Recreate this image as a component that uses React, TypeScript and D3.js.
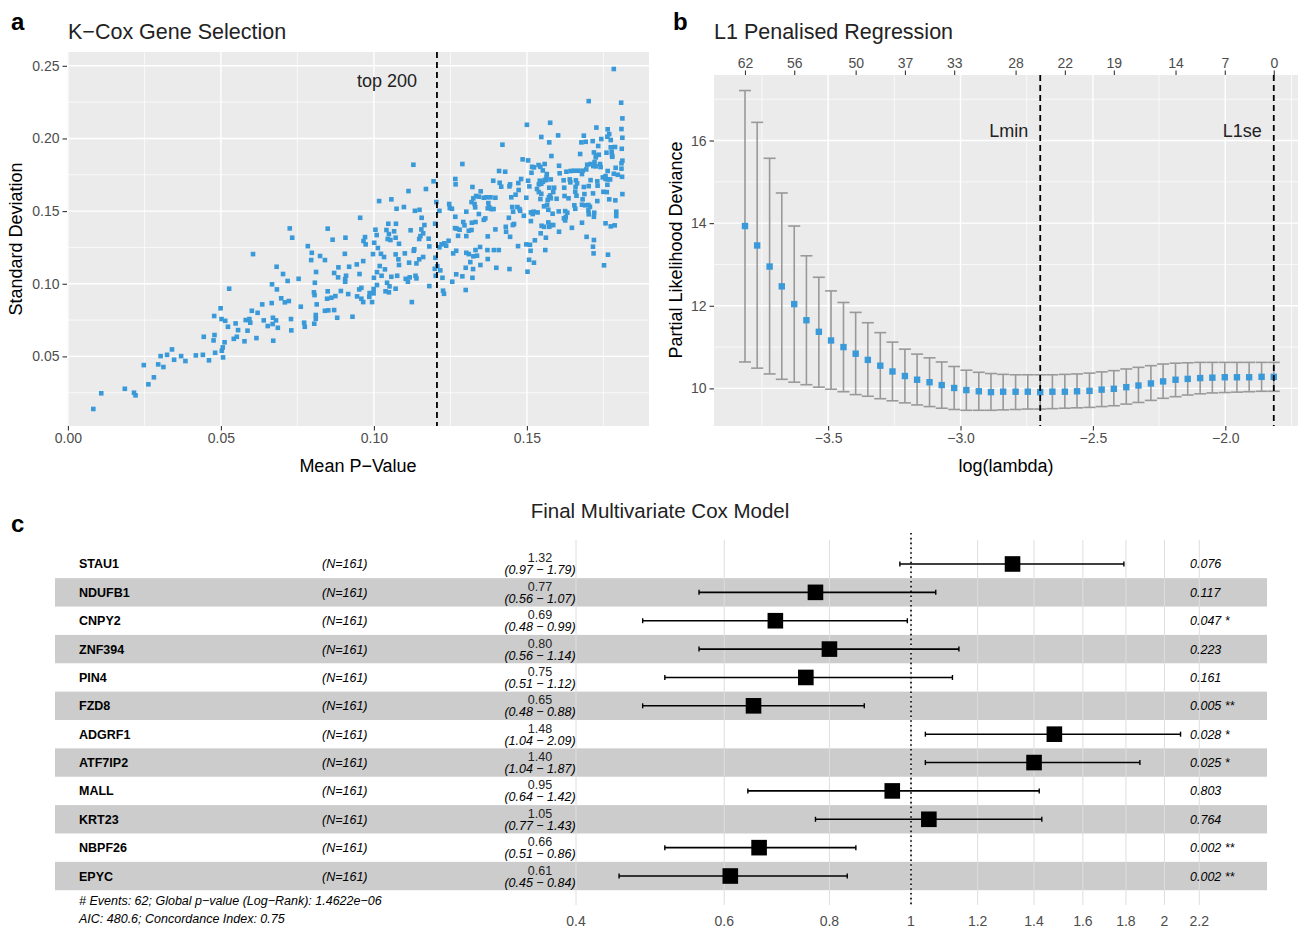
import React, { useEffect, useRef } from "react";
import * as d3 from "d3";

// ---------- panel a : K-Cox gene selection ----------
// [mean p-value, standard deviation] for each gene
const kcoxPoints: [number, number][] = [
  [0.0083, 0.0138], [0.0109, 0.0246], [0.0186, 0.0277], [0.0216, 0.025], [0.0221, 0.0232], [0.0248, 0.044],
  [0.0263, 0.0308], [0.0281, 0.0356], [0.0295, 0.0445], [0.0303, 0.0502], [0.0312, 0.0427], [0.0324, 0.0511],
  [0.034, 0.0548], [0.0347, 0.0477], [0.037, 0.0502], [0.0384, 0.0468], [0.0418, 0.0507], [0.0441, 0.0511],
  [0.0444, 0.0635], [0.0461, 0.0473], [0.0476, 0.061], [0.0478, 0.0778], [0.0479, 0.0647], [0.0481, 0.0525],
  [0.0499, 0.0831], [0.0502, 0.0757], [0.0503, 0.0539], [0.0506, 0.0562], [0.0507, 0.0493], [0.0512, 0.0597],
  [0.0514, 0.0745], [0.0523, 0.0704], [0.0527, 0.0966], [0.0542, 0.0621], [0.0548, 0.0727], [0.0552, 0.0635],
  [0.0556, 0.0681],
  [0.0725, 0.1381], [0.0733, 0.1317], [0.0849, 0.1379], [0.0865, 0.1303], [0.0605, 0.1204], [0.0784, 0.1259],
  [0.0797, 0.1213], [0.0795, 0.1163], [0.0824, 0.1191], [0.084, 0.1163], [0.0682, 0.1117], [0.0703, 0.1067],
  [0.0718, 0.1019], [0.0754, 0.1034], [0.0811, 0.1081], [0.0807, 0.1007], [0.087, 0.1074], [0.0884, 0.1113],
  [0.0883, 0.1044], [0.0667, 0.0996], [0.0683, 0.0961], [0.0804, 0.0941], [0.0806, 0.0922], [0.0849, 0.0948],
  [0.0892, 0.095], [0.0697, 0.09], [0.0709, 0.0872], [0.0722, 0.0881], [0.0761, 0.0842], [0.0813, 0.0858],
  [0.0847, 0.0897], [0.0861, 0.0904], [0.0874, 0.0915], [0.0635, 0.0858], [0.0666, 0.0867], [0.0601, 0.0814],
  [0.062, 0.08], [0.084, 0.0814], [0.0851, 0.0817], [0.087, 0.0819], [0.088, 0.0766], [0.093, 0.0773],
  [0.0581, 0.075], [0.0593, 0.0757], [0.0596, 0.0732], [0.064, 0.0748], [0.067, 0.0766], [0.0669, 0.0723],
  [0.068, 0.0748], [0.0686, 0.0697], [0.0653, 0.0709], [0.0729, 0.0757], [0.073, 0.0679], [0.0772, 0.0732],
  [0.0774, 0.0704], [0.0805, 0.0725], [0.081, 0.0759], [0.081, 0.0785], [0.0587, 0.0677], [0.0577, 0.0604],
  [0.0616, 0.0626], [0.0671, 0.0608],
  [0.1129, 0.1819], [0.1289, 0.1824], [0.1195, 0.1705], [0.1266, 0.1721], [0.1267, 0.1684], [0.1113, 0.1638],
  [0.117, 0.1652], [0.1017, 0.1569], [0.1057, 0.1581], [0.1074, 0.1516], [0.1098, 0.1528], [0.1134, 0.1502],
  [0.1149, 0.1509], [0.1204, 0.1562], [0.1214, 0.1502], [0.1246, 0.1549], [0.1248, 0.1521], [0.1255, 0.1516],
  [0.1302, 0.1496], [0.0955, 0.1454], [0.1156, 0.1454], [0.1047, 0.1413], [0.1072, 0.1413], [0.12, 0.1413],
  [0.1165, 0.1404], [0.1266, 0.1461], [0.1292, 0.1425], [0.1265, 0.1383], [0.1271, 0.1379], [0.128, 0.1372],
  [0.1296, 0.1402], [0.131, 0.1365], [0.1005, 0.1372], [0.1041, 0.137], [0.1066, 0.1361], [0.112, 0.1368],
  [0.1155, 0.1374], [0.1161, 0.1347], [0.1009, 0.1335], [0.1049, 0.1342], [0.1152, 0.1328], [0.1275, 0.133],
  [0.0907, 0.1317], [0.0971, 0.1321], [0.1045, 0.1308], [0.1054, 0.1301], [0.1071, 0.1317], [0.1148, 0.1308],
  [0.1179, 0.131], [0.1302, 0.1328], [0.0966, 0.1294], [0.0973, 0.1271], [0.1001, 0.1282], [0.1082, 0.1275],
  [0.123, 0.1278], [0.1244, 0.1296], [0.1221, 0.1271], [0.1236, 0.1262], [0.1214, 0.1251], [0.1181, 0.1257],
  [0.1013, 0.1246], [0.1132, 0.1237], [0.113, 0.1227], [0.0905, 0.1206], [0.0997, 0.1204], [0.1023, 0.1206],
  [0.1033, 0.1184], [0.1071, 0.1202], [0.1101, 0.1209], [0.1161, 0.1184], [0.1148, 0.1168], [0.108, 0.1168],
  [0.1201, 0.1179], [0.1259, 0.1209], [0.1269, 0.1227], [0.1302, 0.1213], [0.131, 0.1204], [0.0965, 0.1156],
  [0.0944, 0.1133], [0.0919, 0.1117], [0.1019, 0.1122], [0.1036, 0.1099], [0.1082, 0.1129], [0.1115, 0.1145],
  [0.1139, 0.114], [0.1207, 0.112], [0.1199, 0.1103], [0.1217, 0.1092], [0.13, 0.111], [0.0906, 0.1032],
  [0.0909, 0.1055], [0.0906, 0.1014], [0.0953, 0.1067], [0.1, 0.1041], [0.101, 0.108], [0.1025, 0.1055],
  [0.1057, 0.1048], [0.1076, 0.1055], [0.1104, 0.1034], [0.1117, 0.1044], [0.1111, 0.1014], [0.1136, 0.1055],
  [0.1139, 0.1037], [0.1202, 0.1055], [0.1224, 0.1041], [0.1269, 0.1065], [0.1289, 0.1051], [0.101, 0.0991],
  [0.1051, 0.0982], [0.1071, 0.0966], [0.0999, 0.0964], [0.0959, 0.0972], [0.0952, 0.0961], [0.0916, 0.0929],
  [0.0945, 0.0913], [0.0959, 0.0897], [0.0965, 0.0874], [0.0985, 0.091], [0.0994, 0.0874], [0.0986, 0.0936],
  [0.0999, 0.0934], [0.1038, 0.0948], [0.1049, 0.0941], [0.1043, 0.1007], [0.1124, 0.0874], [0.1181, 0.0984],
  [0.1226, 0.0952], [0.1229, 0.0931], [0.1256, 0.1014], [0.13, 0.0957],
  [0.1784, 0.2478], [0.1702, 0.2257], [0.1808, 0.2246], [0.1812, 0.2138], [0.15, 0.2094], [0.1576, 0.2108],
  [0.1727, 0.2075], [0.1764, 0.2063], [0.1769, 0.203], [0.1763, 0.2012], [0.1602, 0.2021], [0.1547, 0.201],
  [0.1686, 0.2019], [0.1812, 0.2005], [0.1809, 0.2065], [0.1743, 0.1996], [0.1692, 0.1977], [0.1678, 0.1973],
  [0.1715, 0.1982], [0.1774, 0.1989], [0.1573, 0.1973], [0.142, 0.1957], [0.1733, 0.1948], [0.1788, 0.1941],
  [0.1774, 0.1939], [0.1777, 0.1908], [0.1778, 0.1884], [0.1779, 0.1874], [0.181, 0.1929], [0.176, 0.1902],
  [0.1719, 0.1904], [0.1726, 0.1884], [0.1735, 0.1888], [0.1725, 0.187], [0.1674, 0.1893], [0.158, 0.1879],
  [0.1486, 0.1856], [0.1504, 0.1849], [0.1812, 0.1847], [0.1809, 0.1829], [0.1697, 0.1819], [0.1708, 0.1824],
  [0.1721, 0.1838], [0.1717, 0.181], [0.1725, 0.1808], [0.1739, 0.1824], [0.1741, 0.1803], [0.1605, 0.1812],
  [0.1558, 0.1824], [0.1517, 0.1805], [0.1523, 0.1801], [0.1538, 0.1817], [0.1544, 0.1805], [0.1552, 0.178],
  [0.1515, 0.1764], [0.179, 0.1798], [0.1809, 0.1792], [0.1694, 0.1787], [0.1682, 0.1778], [0.1668, 0.1778],
  [0.1654, 0.1778], [0.1643, 0.1776], [0.1629, 0.1771], [0.1607, 0.176], [0.1565, 0.1755], [0.1564, 0.1732],
  [0.1764, 0.1776], [0.1784, 0.1757], [0.1797, 0.175], [0.1811, 0.1736], [0.1409, 0.1776], [0.1429, 0.1771],
  [0.168, 0.1755], [0.1748, 0.1732], [0.1757, 0.1741], [0.1757, 0.1721], [0.1765, 0.1718], [0.1772, 0.1718],
  [0.1708, 0.1713], [0.173, 0.1705], [0.139, 0.1709], [0.1481, 0.1721], [0.1504, 0.1709], [0.1542, 0.1709],
  [0.1552, 0.1702], [0.1558, 0.1714], [0.1563, 0.1714], [0.1539, 0.1684], [0.1547, 0.1688], [0.1578, 0.1718],
  [0.162, 0.1712], [0.164, 0.1718], [0.1642, 0.1698], [0.166, 0.1712], [0.1664, 0.1691], [0.1411, 0.1695],
  [0.1416, 0.1668], [0.1322, 0.1666], [0.1349, 0.1636], [0.1472, 0.1693], [0.1445, 0.1684], [0.1443, 0.167],
  [0.1508, 0.167], [0.1573, 0.1661], [0.1589, 0.1661], [0.1622, 0.1661], [0.1659, 0.1666], [0.1686, 0.1666],
  [0.1702, 0.1672], [0.1731, 0.1675], [0.1763, 0.1681], [0.1473, 0.1645], [0.1533, 0.1652], [0.1539, 0.1631],
  [0.1547, 0.1619], [0.1586, 0.1631], [0.1576, 0.1608], [0.1572, 0.1595], [0.1568, 0.1576], [0.1578, 0.1588],
  [0.1597, 0.1585], [0.1623, 0.1604], [0.1636, 0.1588], [0.1658, 0.1633], [0.1662, 0.1606], [0.1716, 0.1622],
  [0.173, 0.1569], [0.175, 0.1633], [0.1761, 0.1631], [0.1769, 0.1581], [0.1789, 0.1574], [0.1812, 0.1617],
  [0.1688, 0.1617], [0.1682, 0.1581], [0.168, 0.1544], [0.1449, 0.1595], [0.1463, 0.1613], [0.1498, 0.1592],
  [0.1544, 0.1583], [0.1566, 0.1542], [0.1556, 0.1533], [0.157, 0.1509], [0.1452, 0.1528], [0.1469, 0.1528],
  [0.1476, 0.1514], [0.1478, 0.1502], [0.1455, 0.1496], [0.1522, 0.1496], [0.1513, 0.1491], [0.1519, 0.148],
  [0.1535, 0.1491], [0.149, 0.1468], [0.1584, 0.1482], [0.1604, 0.1498], [0.1625, 0.15], [0.1632, 0.1489],
  [0.1655, 0.154], [0.1658, 0.1516], [0.169, 0.154], [0.1701, 0.1542], [0.1706, 0.153], [0.1701, 0.1505],
  [0.172, 0.1489], [0.1719, 0.1461], [0.1702, 0.1478], [0.1792, 0.1496], [0.1792, 0.1466], [0.1621, 0.145],
  [0.1625, 0.1436], [0.1627, 0.1459], [0.157, 0.1422], [0.1578, 0.1404], [0.1573, 0.1392], [0.1586, 0.1404],
  [0.1548, 0.1399], [0.1556, 0.1392], [0.1545, 0.1347], [0.1562, 0.1317], [0.156, 0.1232], [0.1513, 0.1431],
  [0.1454, 0.1404], [0.1458, 0.1411], [0.1441, 0.1454], [0.1431, 0.1392], [0.1432, 0.1358], [0.1445, 0.1323],
  [0.1526, 0.1299], [0.1605, 0.1358], [0.1647, 0.1385], [0.168, 0.142], [0.1695, 0.1323], [0.1757, 0.1416],
  [0.1774, 0.1395], [0.1787, 0.1402], [0.1719, 0.1301], [0.1716, 0.1255], [0.1718, 0.1209], [0.1765, 0.12],
  [0.1752, 0.1127], [0.1471, 0.1259], [0.1498, 0.1271], [0.151, 0.1268], [0.1512, 0.1227], [0.1507, 0.1165],
  [0.1523, 0.1145], [0.1502, 0.1083],
  [0.1334, 0.1604], [0.1325, 0.1588], [0.1343, 0.1599], [0.1359, 0.1592], [0.1368, 0.1595], [0.1381, 0.1595],
  [0.1397, 0.1592], [0.1319, 0.1562], [0.1329, 0.1549], [0.1331, 0.1526], [0.1374, 0.1555], [0.1377, 0.1526],
  [0.1383, 0.1514], [0.1391, 0.1514], [0.1372, 0.1519], [0.1343, 0.148], [0.1364, 0.145], [0.1359, 0.144],
  [0.1332, 0.1425], [0.132, 0.142], [0.1319, 0.137], [0.1397, 0.1374], [0.1372, 0.1326], [0.1347, 0.1253],
  [0.1332, 0.1232], [0.1371, 0.1232], [0.1392, 0.1232], [0.1408, 0.1232], [0.1337, 0.1193], [0.1325, 0.1189],
  [0.1315, 0.1149], [0.1372, 0.117], [0.1348, 0.1129], [0.1324, 0.1101], [0.14, 0.111], [0.1443, 0.1101],
  [0.1322, 0.1041],
];
const top200Cutoff = 0.1206;
const kcoxXTicks = [0, 0.05, 0.1, 0.15];
const kcoxYTicks = [0.05, 0.1, 0.15, 0.2, 0.25];

// ---------- panel b : cross-validated L1 path ----------
const cvLogLambda = [
  -3.814, -3.768, -3.721, -3.675, -3.628, -3.582, -3.535, -3.489, -3.442, -3.396, -3.35,
  -3.303, -3.257, -3.21, -3.164, -3.117, -3.071, -3.024, -2.978, -2.931, -2.885, -2.839,
  -2.792, -2.746, -2.699, -2.653, -2.606, -2.56, -2.513, -2.467, -2.421, -2.374, -2.328,
  -2.281, -2.235, -2.188, -2.142, -2.095, -2.049, -2.002, -1.956, -1.91, -1.863, -1.817,
];
const cvMean = [
  13.93, 13.46, 12.95, 12.47, 12.04, 11.65, 11.37, 11.16, 11.0, 10.84, 10.69,
  10.55, 10.41, 10.3, 10.21, 10.15, 10.08, 10.01, 9.96, 9.93, 9.91, 9.92,
  9.92, 9.92, 9.91, 9.92, 9.92, 9.93, 9.94, 9.97, 9.99, 10.03, 10.07,
  10.12, 10.17, 10.21, 10.23, 10.25, 10.26, 10.27, 10.27, 10.27, 10.28, 10.28,
];
const cvUpper = [
  17.21, 16.44, 15.57, 14.73, 13.93, 13.21, 12.69, 12.36, 12.08, 11.84, 11.59,
  11.35, 11.12, 10.95, 10.83, 10.74, 10.64, 10.53, 10.44, 10.39, 10.36, 10.34,
  10.33, 10.33, 10.33, 10.33, 10.34, 10.35, 10.37, 10.4, 10.43, 10.47, 10.51,
  10.55, 10.59, 10.61, 10.62, 10.63, 10.63, 10.63, 10.63, 10.63, 10.63, 10.63,
];
const cvLower = [
  10.64, 10.49, 10.35, 10.22, 10.15, 10.09, 10.03, 9.98, 9.92, 9.85, 9.81,
  9.75, 9.7, 9.65, 9.6, 9.56, 9.52, 9.49, 9.47, 9.47, 9.47, 9.48,
  9.49, 9.5, 9.5, 9.51, 9.52, 9.53, 9.54, 9.56, 9.58, 9.62, 9.66,
  9.71, 9.76, 9.8, 9.84, 9.87, 9.89, 9.9, 9.91, 9.92, 9.93, 9.93,
];
const nzeroLabels = [62, 56, 50, 37, 33, 28, 22, 19, 14, 7, 0];
const nzeroIndex = [0, 4, 9, 13, 17, 22, 26, 30, 35, 39, 43];
const lambdaMinIndex = 24;
const lambda1seIndex = 43;
const cvXTicks = [-3.5, -3.0, -2.5, -2.0];
const cvYTicks = [10, 12, 14, 16];

// ---------- panel c : final multivariate Cox model ----------
const genes = ["STAU1", "NDUFB1", "CNPY2", "ZNF394", "PIN4", "FZD8", "ADGRF1", "ATF7IP2", "MALL", "KRT23", "NBPF26", "EPYC"];
const hazardRatio = [1.32, 0.77, 0.69, 0.8, 0.75, 0.65, 1.48, 1.4, 0.95, 1.05, 0.66, 0.61];
const ciLow = [0.97, 0.56, 0.48, 0.56, 0.51, 0.48, 1.04, 1.04, 0.64, 0.77, 0.51, 0.45];
const ciHigh = [1.79, 1.07, 0.99, 1.14, 1.12, 0.88, 2.09, 1.87, 1.42, 1.43, 0.86, 0.84];
const pValues = ["0.076", "0.117", "0.047", "0.223", "0.161", "0.005", "0.028", "0.025", "0.803", "0.764", "0.002", "0.002"];
const sigStars = ["", "", "*", "", "", "**", "*", "*", "", "", "**", "**"];
const forestTicks = [0.4, 0.6, 0.8, 1, 1.2, 1.4, 1.6, 1.8, 2, 2.2];
const footerLines = [
  "# Events: 62; Global p\u2212value (Log\u2212Rank): 1.4622e\u221206",
  "AIC: 480.6; Concordance Index: 0.75",
];

const FONT = "'Liberation Sans', Arial, Helvetica, sans-serif";
const BLUE = "#3a9ad9";
const MINUS = "\u2212";

// ggplot-like grey panel with white grid
function ggPanel(g, x, y, xMajor, xMinor, yMajor, yMinor) {
  const [x0, x1] = x.range();
  const [y1, y0] = y.range();
  g.append("rect").attr("x", x0).attr("y", y0).attr("width", x1 - x0).attr("height", y1 - y0).attr("fill", "#ebebeb");
  const vlines = (vals, w) =>
    g.append("g").selectAll("line").data(vals).join("line")
      .attr("x1", (d) => x(d)).attr("x2", (d) => x(d)).attr("y1", y0).attr("y2", y1)
      .attr("stroke", "#fff").attr("stroke-width", w);
  const hlines = (vals, w) =>
    g.append("g").selectAll("line").data(vals).join("line")
      .attr("y1", (d) => y(d)).attr("y2", (d) => y(d)).attr("x1", x0).attr("x2", x1)
      .attr("stroke", "#fff").attr("stroke-width", w);
  vlines(xMinor, 0.7);
  hlines(yMinor, 0.7);
  vlines(xMajor, 1.4);
  hlines(yMajor, 1.4);
}

function styleAxis(sel) {
  sel.call((g) => g.select(".domain").remove());
  sel.attr("font-family", FONT).attr("font-size", 14);
  sel.selectAll(".tick line").attr("stroke", "#333").attr("stroke-width", 1.1);
  sel.selectAll(".tick text").attr("fill", "#4d4d4d");
}

export default function App() {
  const ref = useRef(null);

  useEffect(() => {
    const svg = d3.select(ref.current);
    svg.selectAll("*").remove();
    svg.attr("font-family", FONT);

    // ===== panel a =====
    const xA = d3.scaleLinear([-0.0003, 0.1899], [67, 649]);
    const yA = d3.scaleLinear([0.0021, 0.2595], [426, 52]);
    const a = svg.append("g");
    ggPanel(a, xA, yA, kcoxXTicks, [0.025, 0.075, 0.125, 0.175], kcoxYTicks, [0.025, 0.075, 0.125, 0.175, 0.225]);

    a.append("g").selectAll("rect").data(kcoxPoints).join("rect")
      .attr("x", (d) => xA(d[0]) - 2.3).attr("y", (d) => yA(d[1]) - 2.3)
      .attr("width", 4.6).attr("height", 4.6).attr("fill", BLUE);

    a.append("line")
      .attr("x1", xA(top200Cutoff)).attr("x2", xA(top200Cutoff)).attr("y1", 52).attr("y2", 426)
      .attr("stroke", "#000").attr("stroke-width", 1.8).attr("stroke-dasharray", "6,4");
    a.append("text").attr("x", xA(top200Cutoff) - 20).attr("y", 87).attr("text-anchor", "end")
      .attr("font-size", 18).attr("fill", "#222").text("top 200");

    styleAxis(a.append("g").attr("transform", "translate(0,426)")
      .call(d3.axisBottom(xA).tickValues(kcoxXTicks).tickFormat(d3.format(".2f")).tickSize(4.5).tickPadding(3)));
    styleAxis(a.append("g").attr("transform", "translate(67,0)")
      .call(d3.axisLeft(yA).tickValues(kcoxYTicks).tickFormat(d3.format(".2f")).tickSize(4.5).tickPadding(3)));

    a.append("text").attr("x", 358).attr("y", 472).attr("text-anchor", "middle").attr("font-size", 18).text(`Mean P${MINUS}Value`);
    a.append("text").attr("transform", "translate(22,239) rotate(-90)").attr("text-anchor", "middle")
      .attr("font-size", 18).text("Standard Deviation");
    a.append("text").attr("x", 68).attr("y", 39).attr("font-size", 21.5).attr("fill", "#222").text(`K${MINUS}Cox Gene Selection`);
    svg.append("text").attr("x", 11).attr("y", 30).attr("font-size", 24).attr("font-weight", "bold").text("a");

    // ===== panel b =====
    const xB = d3.scaleLinear([-3.931, -1.7255], [714, 1298]);
    const yB = d3.scaleLinear([9.09, 17.586], [426, 75]);
    const b = svg.append("g");
    ggPanel(b, xB, yB, cvXTicks, [-3.75, -3.25, -2.75, -2.25, -1.75], cvYTicks, [11, 13, 15, 17]);

    const idx = d3.range(cvLogLambda.length);
    const bars = b.append("g").attr("stroke", "#999").attr("stroke-width", 1.6);
    bars.selectAll("line.v").data(idx).join("line").attr("class", "v")
      .attr("x1", (i) => xB(cvLogLambda[i])).attr("x2", (i) => xB(cvLogLambda[i]))
      .attr("y1", (i) => yB(cvUpper[i])).attr("y2", (i) => yB(cvLower[i]));
    bars.selectAll("line.u").data(idx).join("line").attr("class", "u")
      .attr("x1", (i) => xB(cvLogLambda[i]) - 6).attr("x2", (i) => xB(cvLogLambda[i]) + 6)
      .attr("y1", (i) => yB(cvUpper[i])).attr("y2", (i) => yB(cvUpper[i]));
    bars.selectAll("line.l").data(idx).join("line").attr("class", "l")
      .attr("x1", (i) => xB(cvLogLambda[i]) - 6).attr("x2", (i) => xB(cvLogLambda[i]) + 6)
      .attr("y1", (i) => yB(cvLower[i])).attr("y2", (i) => yB(cvLower[i]));

    b.append("g").selectAll("rect").data(idx).join("rect")
      .attr("x", (i) => xB(cvLogLambda[i]) - 3.2).attr("y", (i) => yB(cvMean[i]) - 3.2)
      .attr("width", 6.4).attr("height", 6.4).attr("fill", BLUE);

    const cutLines = [
      { i: lambdaMinIndex, label: "Lmin" },
      { i: lambda1seIndex, label: "L1se" },
    ];
    cutLines.forEach(({ i, label }) => {
      const x = xB(cvLogLambda[i]);
      b.append("line").attr("x1", x).attr("x2", x).attr("y1", 75).attr("y2", 426)
        .attr("stroke", "#000").attr("stroke-width", 1.8).attr("stroke-dasharray", "6,4");
      b.append("text").attr("x", x - 12).attr("y", 137).attr("text-anchor", "end")
        .attr("font-size", 18).attr("fill", "#222").text(label);
    });

    styleAxis(b.append("g").attr("transform", "translate(0,426)")
      .call(d3.axisBottom(xB).tickValues(cvXTicks).tickFormat(d3.format(".1f")).tickSize(4.5).tickPadding(3)));
    styleAxis(b.append("g").attr("transform", "translate(714,0)")
      .call(d3.axisLeft(yB).tickValues(cvYTicks).tickFormat(d3.format("d")).tickSize(4.5).tickPadding(3)));
    const topVals = nzeroIndex.map((i) => cvLogLambda[i]);
    styleAxis(b.append("g").attr("transform", "translate(0,75)")
      .call(d3.axisTop(xB).tickValues(topVals).tickFormat((d, k) => String(nzeroLabels[k])).tickSize(4.5).tickPadding(3)));

    b.append("text").attr("x", 1006).attr("y", 472).attr("text-anchor", "middle").attr("font-size", 18).text("log(lambda)");
    b.append("text").attr("transform", "translate(682,250) rotate(-90)").attr("text-anchor", "middle")
      .attr("font-size", 18).text("Partial Likelihood Deviance");
    b.append("text").attr("x", 714).attr("y", 39).attr("font-size", 21.5).attr("fill", "#222").text("L1 Penalised Regression");
    svg.append("text").attr("x", 673).attr("y", 30).attr("font-size", 24).attr("font-weight", "bold").text("b");

    // ===== panel c =====
    const xC = d3.scaleLog([0.4, 2.2], [576, 1199.3]);
    const yC = d3.scaleBand(genes, [549.8, 890.2]);
    const c = svg.append("g");
    const bw = yC.bandwidth();
    const mid = (g) => yC(g) + bw / 2;

    c.append("g").selectAll("rect").data(genes.filter((_, i) => i % 2 === 1)).join("rect")
      .attr("x", 55).attr("width", 1212).attr("y", (g) => yC(g)).attr("height", bw).attr("fill", "#cccccc");

    c.append("g").selectAll("line").data(forestTicks).join("line")
      .attr("x1", (d) => xC(d)).attr("x2", (d) => xC(d)).attr("y1", 540).attr("y2", 905)
      .attr("stroke", "#dedede").attr("stroke-width", 1);
    c.append("line").attr("x1", xC(1)).attr("x2", xC(1)).attr("y1", 533).attr("y2", 905)
      .attr("stroke", "#000").attr("stroke-width", 1.6).attr("stroke-dasharray", "1.6,3.2");

    c.append("g").selectAll("text").data(forestTicks).join("text")
      .attr("x", (d) => xC(d)).attr("y", 926).attr("text-anchor", "middle")
      .attr("font-size", 14).attr("fill", "#4d4d4d").text((d) => String(d));

    const rows = c.append("g").selectAll("g").data(genes).join("g");
    rows.append("text").attr("x", 79).attr("y", (g) => mid(g) + 4.5)
      .attr("font-size", 12.5).attr("font-weight", "bold").text((g) => g);
    rows.append("text").attr("x", 322).attr("y", (g) => mid(g) + 4.5)
      .attr("font-size", 12.5).attr("font-style", "italic").text("(N=161)");
    rows.append("text").attr("x", 540).attr("y", (g) => mid(g) - 1.5).attr("text-anchor", "middle")
      .attr("font-size", 12.5).attr("fill", "#222").text((g, i) => hazardRatio[i].toFixed(2));
    rows.append("text").attr("x", 540).attr("y", (g) => mid(g) + 10.5).attr("text-anchor", "middle")
      .attr("font-size", 12.5).attr("font-style", "italic")
      .text((g, i) => `(${ciLow[i].toFixed(2)} ${MINUS} ${ciHigh[i].toFixed(2)})`);
    rows.append("text").attr("x", 1190).attr("y", (g) => mid(g) + 4.5)
      .attr("font-size", 12.5).attr("font-style", "italic")
      .text((g, i) => pValues[i] + (sigStars[i] ? " " + sigStars[i] : ""));

    rows.append("line").attr("x1", (g, i) => xC(ciLow[i])).attr("x2", (g, i) => xC(ciHigh[i]))
      .attr("y1", mid).attr("y2", mid).attr("stroke", "#000").attr("stroke-width", 1.6);
    rows.append("line").attr("x1", (g, i) => xC(ciLow[i])).attr("x2", (g, i) => xC(ciLow[i]))
      .attr("y1", (g) => mid(g) - 2.5).attr("y2", (g) => mid(g) + 2.5).attr("stroke", "#000").attr("stroke-width", 1.4);
    rows.append("line").attr("x1", (g, i) => xC(ciHigh[i])).attr("x2", (g, i) => xC(ciHigh[i]))
      .attr("y1", (g) => mid(g) - 2.5).attr("y2", (g) => mid(g) + 2.5).attr("stroke", "#000").attr("stroke-width", 1.4);
    rows.append("rect").attr("x", (g, i) => xC(hazardRatio[i]) - 7.8).attr("y", (g) => mid(g) - 7.8)
      .attr("width", 15.6).attr("height", 15.6).attr("fill", "#000");

    c.append("g").selectAll("text").data(footerLines).join("text")
      .attr("x", 79).attr("y", (d, i) => 905 + i * 18).attr("font-size", 12.5).attr("font-style", "italic").text((d) => d);

    c.append("text").attr("x", 660).attr("y", 518).attr("text-anchor", "middle").attr("font-size", 20.5)
      .attr("fill", "#222").text("Final Multivariate Cox Model");
    svg.append("text").attr("x", 11).attr("y", 532).attr("font-size", 24).attr("font-weight", "bold").text("c");
  }, []);

  return (
    <svg
      ref={ref}
      width={1298}
      height={929}
      style={{ position: "absolute", left: 0, top: 0, background: "#fff" }}
    />
  );
}
